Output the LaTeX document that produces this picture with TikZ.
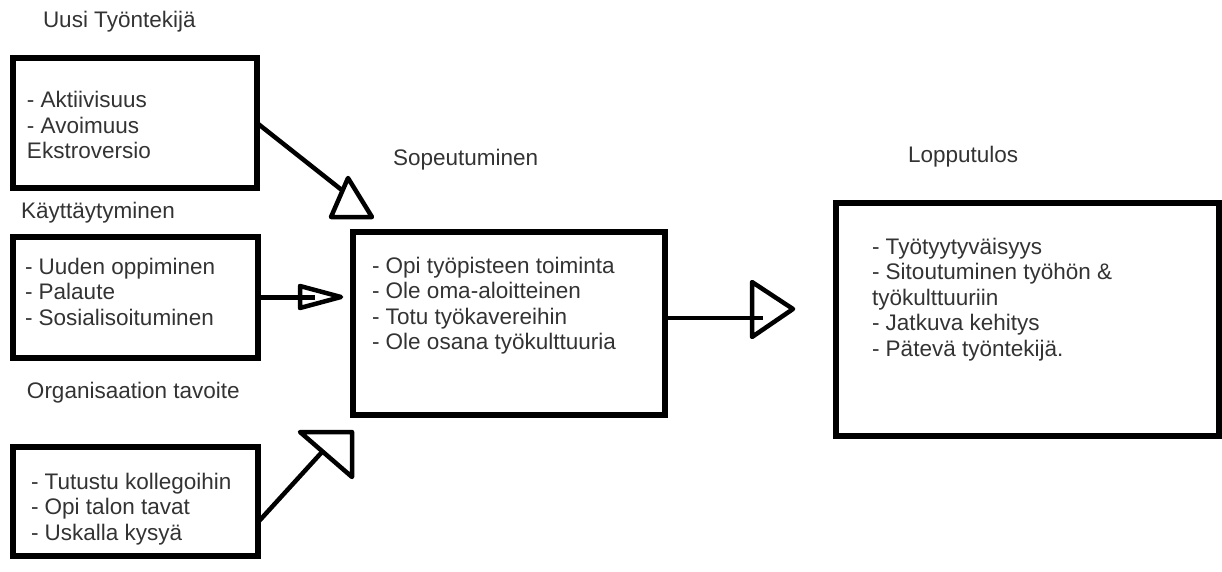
\documentclass[tikz,border=0pt]{standalone}
\usepackage{fontspec}
\setmainfont{Liberation Sans}
\usetikzlibrary{calc}
\definecolor{txtc}{HTML}{333333}
\begin{document}
\begin{tikzpicture}[x=1pt,y=-1pt,
  box/.style={draw, line width=5.5pt, inner sep=0pt, outer sep=0pt},
  txt/.style={anchor=base west, inner sep=0pt, outer sep=0pt, align=left, text=txtc, font=\fontsize{22.5}{25.5}\selectfont},
  conn/.style={line width=4.5pt},
  head/.style={line width=4.5pt, line join=round}]
\useasboundingbox (0,0) rectangle (1222,572);
% boxes
\node[box, minimum width=244pt, minimum height=130pt] (b1) at (135,123) {};
\node[box, minimum width=245pt, minimum height=121pt] (b2) at (135.5,297.5) {};
\node[box, minimum width=245pt, minimum height=109pt] (b3) at (135.5,501.5) {};
\node[box, minimum width=312pt, minimum height=183pt] (c) at (509,323.5) {};
\node[box, minimum width=383pt, minimum height=233pt] (r) at (1027.5,319.5) {};
% labels
\node[txt] (l1) at (43,28) {Uusi Työntekijä};
\node[txt] (l2) at (21,218) {Käyttäytyminen};
\node[txt] (l3) at (27,398) {Organisaation tavoite};
\node[txt] (l4) at (393,165) {Sopeutuminen};
\node[txt] (l5) at (908,163) {Lopputulos};
% box texts (anchored at the baseline of the last line)
\node[txt] (t1) at (27,159) {- Aktiivisuus\\- Avoimuus\\Ekstroversio};
\node[txt] (t2) at (25,325) {- Uuden oppiminen\\- Palaute\\- Sosialisoituminen};
\node[txt] (t3) at (31,540) {- Tutustu kollegoihin\\- Opi talon tavat\\- Uskalla kysyä};
\node[txt] (tc) at (372,349.5) {- Opi työpisteen toiminta\\- Ole oma-aloitteinen\\- Totu työkavereihin\\- Ole osana työkulttuuria};
\node[txt] (tr) at (872,356) {- Työtyytyväisyys\\- Sitoutuminen työhön \&\\työkulttuuriin\\- Jatkuva kehitys\\- Pätevä työntekijä.};
% connectors
\coordinate (h1) at (343,191);
\draw[conn] (b1.east) -- (h1);
\draw[head] (348,178) -- (331,217) -- (372,217) -- cycle;
\coordinate (h2) at (315,297.5);
\draw[conn] (b2.east) -- (h2);
\draw[head] (300,286) -- (341,297) -- (300,308) -- cycle;
\coordinate (s3) at ($(b3.north east)!0.69!(b3.south east)$);
\coordinate (h3) at (322,452);
\draw[conn] (s3) -- (h3);
\draw[head] (300,432) -- (352,432) -- (352,477) -- cycle;
\coordinate (s4) at ([yshift=5.5pt]c.east);
\coordinate (h4) at (763,318);
\draw[conn] (s4) -- (h4);
\draw[head] (752,282) -- (793,309) -- (752,337) -- cycle;
\end{tikzpicture}
\end{document}
